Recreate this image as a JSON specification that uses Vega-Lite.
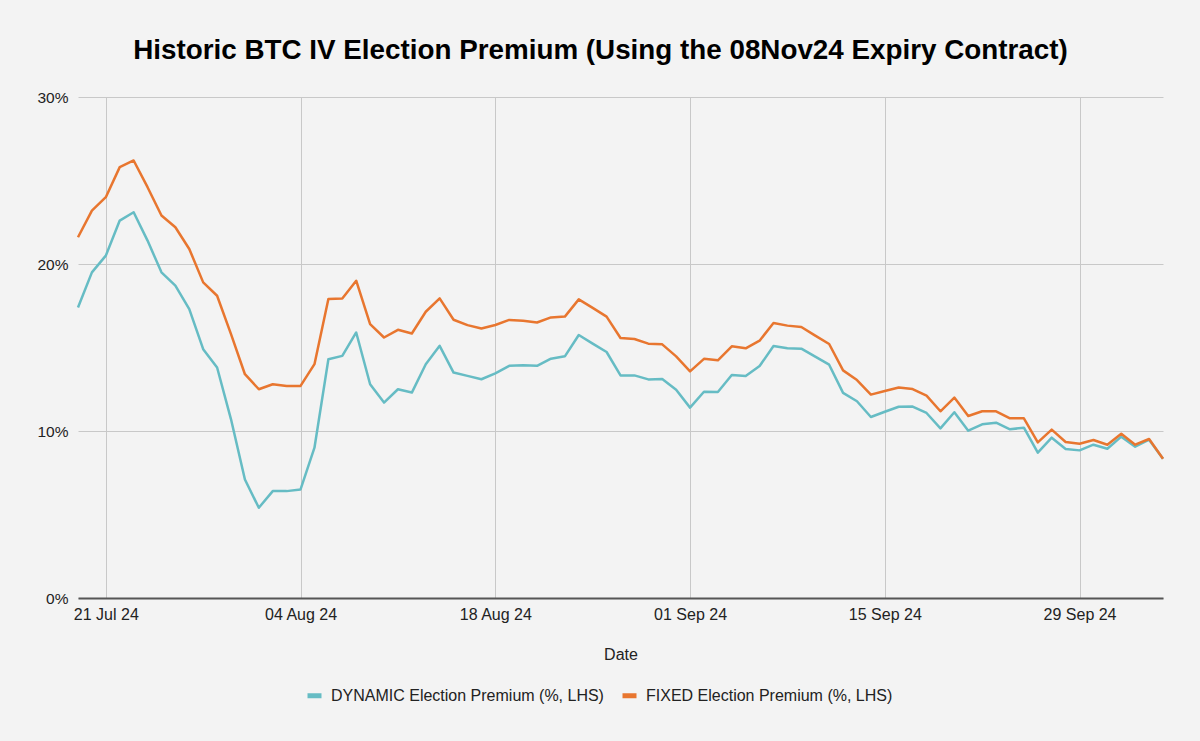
{
  "$schema": "https://vega.github.io/schema/vega-lite/v6.json",
  "autosize": "none",
  "width": 1085,
  "height": 501,
  "padding": {"left": 78, "top": 97, "right": 37, "bottom": 143},
  "background": "#f3f3f3",
  "title": {
    "text": "Historic BTC IV Election Premium (Using the 08Nov24 Expiry Contract)",
    "font": "Liberation Sans",
    "fontSize": 27.8,
    "fontWeight": "bold",
    "color": "#000000",
    "anchor": "middle",
    "dx": -20,
    "offset": 25
  },
  "config": {
    "view": {"stroke": null},
    "font": "Liberation Sans",
    "axis": {
      "labelFont": "Liberation Sans",
      "titleFont": "Liberation Sans",
      "labelFontSize": 15.5,
      "labelColor": "#222222",
      "titleFontSize": 16,
      "titleFontWeight": "normal",
      "titleColor": "#222222",
      "gridColor": "#c8c8c8",
      "gridWidth": 1,
      "ticks": false
    },
    "legend": {
      "labelFont": "Liberation Sans",
      "labelFontSize": 16,
      "labelColor": "#222222",
      "labelLimit": 500
    }
  },
  "data": {
    "values": [
      {"date": "2024-07-19", "series": "DYNAMIC Election Premium (%, LHS)", "value": 17.4},
      {"date": "2024-07-20", "series": "DYNAMIC Election Premium (%, LHS)", "value": 19.5},
      {"date": "2024-07-21", "series": "DYNAMIC Election Premium (%, LHS)", "value": 20.5},
      {"date": "2024-07-22", "series": "DYNAMIC Election Premium (%, LHS)", "value": 22.6},
      {"date": "2024-07-23", "series": "DYNAMIC Election Premium (%, LHS)", "value": 23.1},
      {"date": "2024-07-24", "series": "DYNAMIC Election Premium (%, LHS)", "value": 21.4},
      {"date": "2024-07-25", "series": "DYNAMIC Election Premium (%, LHS)", "value": 19.5},
      {"date": "2024-07-26", "series": "DYNAMIC Election Premium (%, LHS)", "value": 18.7},
      {"date": "2024-07-27", "series": "DYNAMIC Election Premium (%, LHS)", "value": 17.3},
      {"date": "2024-07-28", "series": "DYNAMIC Election Premium (%, LHS)", "value": 14.9},
      {"date": "2024-07-29", "series": "DYNAMIC Election Premium (%, LHS)", "value": 13.8},
      {"date": "2024-07-30", "series": "DYNAMIC Election Premium (%, LHS)", "value": 10.7},
      {"date": "2024-07-31", "series": "DYNAMIC Election Premium (%, LHS)", "value": 7.1},
      {"date": "2024-08-01", "series": "DYNAMIC Election Premium (%, LHS)", "value": 5.4},
      {"date": "2024-08-02", "series": "DYNAMIC Election Premium (%, LHS)", "value": 6.4},
      {"date": "2024-08-03", "series": "DYNAMIC Election Premium (%, LHS)", "value": 6.4},
      {"date": "2024-08-04", "series": "DYNAMIC Election Premium (%, LHS)", "value": 6.5},
      {"date": "2024-08-05", "series": "DYNAMIC Election Premium (%, LHS)", "value": 9.0},
      {"date": "2024-08-06", "series": "DYNAMIC Election Premium (%, LHS)", "value": 14.3},
      {"date": "2024-08-07", "series": "DYNAMIC Election Premium (%, LHS)", "value": 14.5},
      {"date": "2024-08-08", "series": "DYNAMIC Election Premium (%, LHS)", "value": 15.9},
      {"date": "2024-08-09", "series": "DYNAMIC Election Premium (%, LHS)", "value": 12.8},
      {"date": "2024-08-10", "series": "DYNAMIC Election Premium (%, LHS)", "value": 11.7},
      {"date": "2024-08-11", "series": "DYNAMIC Election Premium (%, LHS)", "value": 12.5},
      {"date": "2024-08-12", "series": "DYNAMIC Election Premium (%, LHS)", "value": 12.3},
      {"date": "2024-08-13", "series": "DYNAMIC Election Premium (%, LHS)", "value": 14.0},
      {"date": "2024-08-14", "series": "DYNAMIC Election Premium (%, LHS)", "value": 15.1},
      {"date": "2024-08-15", "series": "DYNAMIC Election Premium (%, LHS)", "value": 13.5},
      {"date": "2024-08-16", "series": "DYNAMIC Election Premium (%, LHS)", "value": 13.3},
      {"date": "2024-08-17", "series": "DYNAMIC Election Premium (%, LHS)", "value": 13.1},
      {"date": "2024-08-18", "series": "DYNAMIC Election Premium (%, LHS)", "value": 13.45},
      {"date": "2024-08-19", "series": "DYNAMIC Election Premium (%, LHS)", "value": 13.9},
      {"date": "2024-08-20", "series": "DYNAMIC Election Premium (%, LHS)", "value": 13.93},
      {"date": "2024-08-21", "series": "DYNAMIC Election Premium (%, LHS)", "value": 13.9},
      {"date": "2024-08-22", "series": "DYNAMIC Election Premium (%, LHS)", "value": 14.33},
      {"date": "2024-08-23", "series": "DYNAMIC Election Premium (%, LHS)", "value": 14.47},
      {"date": "2024-08-24", "series": "DYNAMIC Election Premium (%, LHS)", "value": 15.75},
      {"date": "2024-08-25", "series": "DYNAMIC Election Premium (%, LHS)", "value": 15.23},
      {"date": "2024-08-26", "series": "DYNAMIC Election Premium (%, LHS)", "value": 14.73},
      {"date": "2024-08-27", "series": "DYNAMIC Election Premium (%, LHS)", "value": 13.33},
      {"date": "2024-08-28", "series": "DYNAMIC Election Premium (%, LHS)", "value": 13.33},
      {"date": "2024-08-29", "series": "DYNAMIC Election Premium (%, LHS)", "value": 13.09},
      {"date": "2024-08-30", "series": "DYNAMIC Election Premium (%, LHS)", "value": 13.11},
      {"date": "2024-08-31", "series": "DYNAMIC Election Premium (%, LHS)", "value": 12.47},
      {"date": "2024-09-01", "series": "DYNAMIC Election Premium (%, LHS)", "value": 11.4},
      {"date": "2024-09-02", "series": "DYNAMIC Election Premium (%, LHS)", "value": 12.35},
      {"date": "2024-09-03", "series": "DYNAMIC Election Premium (%, LHS)", "value": 12.34},
      {"date": "2024-09-04", "series": "DYNAMIC Election Premium (%, LHS)", "value": 13.35},
      {"date": "2024-09-05", "series": "DYNAMIC Election Premium (%, LHS)", "value": 13.29},
      {"date": "2024-09-06", "series": "DYNAMIC Election Premium (%, LHS)", "value": 13.89},
      {"date": "2024-09-07", "series": "DYNAMIC Election Premium (%, LHS)", "value": 15.09},
      {"date": "2024-09-08", "series": "DYNAMIC Election Premium (%, LHS)", "value": 14.95},
      {"date": "2024-09-09", "series": "DYNAMIC Election Premium (%, LHS)", "value": 14.93},
      {"date": "2024-09-10", "series": "DYNAMIC Election Premium (%, LHS)", "value": 14.45},
      {"date": "2024-09-11", "series": "DYNAMIC Election Premium (%, LHS)", "value": 13.97},
      {"date": "2024-09-12", "series": "DYNAMIC Election Premium (%, LHS)", "value": 12.28},
      {"date": "2024-09-13", "series": "DYNAMIC Election Premium (%, LHS)", "value": 11.78},
      {"date": "2024-09-14", "series": "DYNAMIC Election Premium (%, LHS)", "value": 10.84},
      {"date": "2024-09-15", "series": "DYNAMIC Election Premium (%, LHS)", "value": 11.15},
      {"date": "2024-09-16", "series": "DYNAMIC Election Premium (%, LHS)", "value": 11.45},
      {"date": "2024-09-17", "series": "DYNAMIC Election Premium (%, LHS)", "value": 11.46},
      {"date": "2024-09-18", "series": "DYNAMIC Election Premium (%, LHS)", "value": 11.08},
      {"date": "2024-09-19", "series": "DYNAMIC Election Premium (%, LHS)", "value": 10.16},
      {"date": "2024-09-20", "series": "DYNAMIC Election Premium (%, LHS)", "value": 11.12},
      {"date": "2024-09-21", "series": "DYNAMIC Election Premium (%, LHS)", "value": 10.02},
      {"date": "2024-09-22", "series": "DYNAMIC Election Premium (%, LHS)", "value": 10.4},
      {"date": "2024-09-23", "series": "DYNAMIC Election Premium (%, LHS)", "value": 10.5},
      {"date": "2024-09-24", "series": "DYNAMIC Election Premium (%, LHS)", "value": 10.1},
      {"date": "2024-09-25", "series": "DYNAMIC Election Premium (%, LHS)", "value": 10.2},
      {"date": "2024-09-26", "series": "DYNAMIC Election Premium (%, LHS)", "value": 8.7},
      {"date": "2024-09-27", "series": "DYNAMIC Election Premium (%, LHS)", "value": 9.6},
      {"date": "2024-09-28", "series": "DYNAMIC Election Premium (%, LHS)", "value": 8.92},
      {"date": "2024-09-29", "series": "DYNAMIC Election Premium (%, LHS)", "value": 8.84},
      {"date": "2024-09-30", "series": "DYNAMIC Election Premium (%, LHS)", "value": 9.18},
      {"date": "2024-10-01", "series": "DYNAMIC Election Premium (%, LHS)", "value": 8.94},
      {"date": "2024-10-02", "series": "DYNAMIC Election Premium (%, LHS)", "value": 9.66},
      {"date": "2024-10-03", "series": "DYNAMIC Election Premium (%, LHS)", "value": 9.06},
      {"date": "2024-10-04", "series": "DYNAMIC Election Premium (%, LHS)", "value": 9.48},
      {"date": "2024-10-05", "series": "DYNAMIC Election Premium (%, LHS)", "value": 8.34},
      {"date": "2024-07-19", "series": "FIXED Election Premium (%, LHS)", "value": 21.6},
      {"date": "2024-07-20", "series": "FIXED Election Premium (%, LHS)", "value": 23.2},
      {"date": "2024-07-21", "series": "FIXED Election Premium (%, LHS)", "value": 24.0},
      {"date": "2024-07-22", "series": "FIXED Election Premium (%, LHS)", "value": 25.8},
      {"date": "2024-07-23", "series": "FIXED Election Premium (%, LHS)", "value": 26.2},
      {"date": "2024-07-24", "series": "FIXED Election Premium (%, LHS)", "value": 24.6},
      {"date": "2024-07-25", "series": "FIXED Election Premium (%, LHS)", "value": 22.9},
      {"date": "2024-07-26", "series": "FIXED Election Premium (%, LHS)", "value": 22.2},
      {"date": "2024-07-27", "series": "FIXED Election Premium (%, LHS)", "value": 20.9},
      {"date": "2024-07-28", "series": "FIXED Election Premium (%, LHS)", "value": 18.9},
      {"date": "2024-07-29", "series": "FIXED Election Premium (%, LHS)", "value": 18.1},
      {"date": "2024-07-30", "series": "FIXED Election Premium (%, LHS)", "value": 15.8},
      {"date": "2024-07-31", "series": "FIXED Election Premium (%, LHS)", "value": 13.4},
      {"date": "2024-08-01", "series": "FIXED Election Premium (%, LHS)", "value": 12.5},
      {"date": "2024-08-02", "series": "FIXED Election Premium (%, LHS)", "value": 12.8},
      {"date": "2024-08-03", "series": "FIXED Election Premium (%, LHS)", "value": 12.7},
      {"date": "2024-08-04", "series": "FIXED Election Premium (%, LHS)", "value": 12.7},
      {"date": "2024-08-05", "series": "FIXED Election Premium (%, LHS)", "value": 14.0},
      {"date": "2024-08-06", "series": "FIXED Election Premium (%, LHS)", "value": 17.9},
      {"date": "2024-08-07", "series": "FIXED Election Premium (%, LHS)", "value": 17.94},
      {"date": "2024-08-08", "series": "FIXED Election Premium (%, LHS)", "value": 19.0},
      {"date": "2024-08-09", "series": "FIXED Election Premium (%, LHS)", "value": 16.4},
      {"date": "2024-08-10", "series": "FIXED Election Premium (%, LHS)", "value": 15.6},
      {"date": "2024-08-11", "series": "FIXED Election Premium (%, LHS)", "value": 16.06},
      {"date": "2024-08-12", "series": "FIXED Election Premium (%, LHS)", "value": 15.84},
      {"date": "2024-08-13", "series": "FIXED Election Premium (%, LHS)", "value": 17.14},
      {"date": "2024-08-14", "series": "FIXED Election Premium (%, LHS)", "value": 17.94},
      {"date": "2024-08-15", "series": "FIXED Election Premium (%, LHS)", "value": 16.66},
      {"date": "2024-08-16", "series": "FIXED Election Premium (%, LHS)", "value": 16.34},
      {"date": "2024-08-17", "series": "FIXED Election Premium (%, LHS)", "value": 16.14},
      {"date": "2024-08-18", "series": "FIXED Election Premium (%, LHS)", "value": 16.35},
      {"date": "2024-08-19", "series": "FIXED Election Premium (%, LHS)", "value": 16.65},
      {"date": "2024-08-20", "series": "FIXED Election Premium (%, LHS)", "value": 16.6},
      {"date": "2024-08-21", "series": "FIXED Election Premium (%, LHS)", "value": 16.5},
      {"date": "2024-08-22", "series": "FIXED Election Premium (%, LHS)", "value": 16.8},
      {"date": "2024-08-23", "series": "FIXED Election Premium (%, LHS)", "value": 16.85},
      {"date": "2024-08-24", "series": "FIXED Election Premium (%, LHS)", "value": 17.88},
      {"date": "2024-08-25", "series": "FIXED Election Premium (%, LHS)", "value": 17.37},
      {"date": "2024-08-26", "series": "FIXED Election Premium (%, LHS)", "value": 16.85},
      {"date": "2024-08-27", "series": "FIXED Election Premium (%, LHS)", "value": 15.57},
      {"date": "2024-08-28", "series": "FIXED Election Premium (%, LHS)", "value": 15.51},
      {"date": "2024-08-29", "series": "FIXED Election Premium (%, LHS)", "value": 15.23},
      {"date": "2024-08-30", "series": "FIXED Election Premium (%, LHS)", "value": 15.19},
      {"date": "2024-08-31", "series": "FIXED Election Premium (%, LHS)", "value": 14.47},
      {"date": "2024-09-01", "series": "FIXED Election Premium (%, LHS)", "value": 13.57},
      {"date": "2024-09-02", "series": "FIXED Election Premium (%, LHS)", "value": 14.32},
      {"date": "2024-09-03", "series": "FIXED Election Premium (%, LHS)", "value": 14.23},
      {"date": "2024-09-04", "series": "FIXED Election Premium (%, LHS)", "value": 15.07},
      {"date": "2024-09-05", "series": "FIXED Election Premium (%, LHS)", "value": 14.95},
      {"date": "2024-09-06", "series": "FIXED Election Premium (%, LHS)", "value": 15.41},
      {"date": "2024-09-07", "series": "FIXED Election Premium (%, LHS)", "value": 16.47},
      {"date": "2024-09-08", "series": "FIXED Election Premium (%, LHS)", "value": 16.31},
      {"date": "2024-09-09", "series": "FIXED Election Premium (%, LHS)", "value": 16.23},
      {"date": "2024-09-10", "series": "FIXED Election Premium (%, LHS)", "value": 15.71},
      {"date": "2024-09-11", "series": "FIXED Election Premium (%, LHS)", "value": 15.21},
      {"date": "2024-09-12", "series": "FIXED Election Premium (%, LHS)", "value": 13.63},
      {"date": "2024-09-13", "series": "FIXED Election Premium (%, LHS)", "value": 13.05},
      {"date": "2024-09-14", "series": "FIXED Election Premium (%, LHS)", "value": 12.18},
      {"date": "2024-09-15", "series": "FIXED Election Premium (%, LHS)", "value": 12.4},
      {"date": "2024-09-16", "series": "FIXED Election Premium (%, LHS)", "value": 12.6},
      {"date": "2024-09-17", "series": "FIXED Election Premium (%, LHS)", "value": 12.51},
      {"date": "2024-09-18", "series": "FIXED Election Premium (%, LHS)", "value": 12.12},
      {"date": "2024-09-19", "series": "FIXED Election Premium (%, LHS)", "value": 11.18},
      {"date": "2024-09-20", "series": "FIXED Election Premium (%, LHS)", "value": 12.0},
      {"date": "2024-09-21", "series": "FIXED Election Premium (%, LHS)", "value": 10.9},
      {"date": "2024-09-22", "series": "FIXED Election Premium (%, LHS)", "value": 11.18},
      {"date": "2024-09-23", "series": "FIXED Election Premium (%, LHS)", "value": 11.18},
      {"date": "2024-09-24", "series": "FIXED Election Premium (%, LHS)", "value": 10.76},
      {"date": "2024-09-25", "series": "FIXED Election Premium (%, LHS)", "value": 10.76},
      {"date": "2024-09-26", "series": "FIXED Election Premium (%, LHS)", "value": 9.32},
      {"date": "2024-09-27", "series": "FIXED Election Premium (%, LHS)", "value": 10.08},
      {"date": "2024-09-28", "series": "FIXED Election Premium (%, LHS)", "value": 9.34},
      {"date": "2024-09-29", "series": "FIXED Election Premium (%, LHS)", "value": 9.24},
      {"date": "2024-09-30", "series": "FIXED Election Premium (%, LHS)", "value": 9.46},
      {"date": "2024-10-01", "series": "FIXED Election Premium (%, LHS)", "value": 9.18},
      {"date": "2024-10-02", "series": "FIXED Election Premium (%, LHS)", "value": 9.84},
      {"date": "2024-10-03", "series": "FIXED Election Premium (%, LHS)", "value": 9.18},
      {"date": "2024-10-04", "series": "FIXED Election Premium (%, LHS)", "value": 9.52},
      {"date": "2024-10-05", "series": "FIXED Election Premium (%, LHS)", "value": 8.34}
    ]
  },
  "mark": {"type": "line", "strokeWidth": 2.5, "strokeJoin": "round"},
  "encoding": {
    "x": {
      "field": "date",
      "type": "temporal",
      "scale": {
        "type": "utc",
        "domain": [
          {"year": 2024, "month": 7, "date": 19, "utc": true},
          {"year": 2024, "month": 10, "date": 5, "utc": true}
        ]
      },
      "axis": {
        "title": "Date",
        "labelExpr": "utcFormat(datum.value, '%d %b %y')",
        "values": [
          {"year": 2024, "month": 7, "date": 21, "utc": true},
          {"year": 2024, "month": 8, "date": 4, "utc": true},
          {"year": 2024, "month": 8, "date": 18, "utc": true},
          {"year": 2024, "month": 9, "date": 1, "utc": true},
          {"year": 2024, "month": 9, "date": 15, "utc": true},
          {"year": 2024, "month": 9, "date": 29, "utc": true}
        ],
        "labelFontSize": 16,
        "labelPadding": 8,
        "titlePadding": 24,
        "domainColor": "#555555",
        "domainWidth": 2,
        "labelFlush": false
      }
    },
    "y": {
      "field": "value",
      "type": "quantitative",
      "scale": {"domain": [0, 30]},
      "axis": {
        "title": null,
        "values": [0, 10, 20, 30],
        "labelExpr": "datum.value + '%'",
        "labelPadding": 10,
        "domain": false
      }
    },
    "color": {
      "field": "series",
      "type": "nominal",
      "scale": {
        "domain": ["DYNAMIC Election Premium (%, LHS)", "FIXED Election Premium (%, LHS)"],
        "range": ["#66bcc4", "#e8762f"]
      },
      "legend": {
        "title": null,
        "orient": "none",
        "direction": "horizontal",
        "legendX": 227,
        "legendY": 589,
        "symbolType": "stroke",
        "symbolSize": 196,
        "symbolStrokeWidth": 5,
        "labelOffset": 7,
        "columnPadding": 8
      }
    }
  }
}
